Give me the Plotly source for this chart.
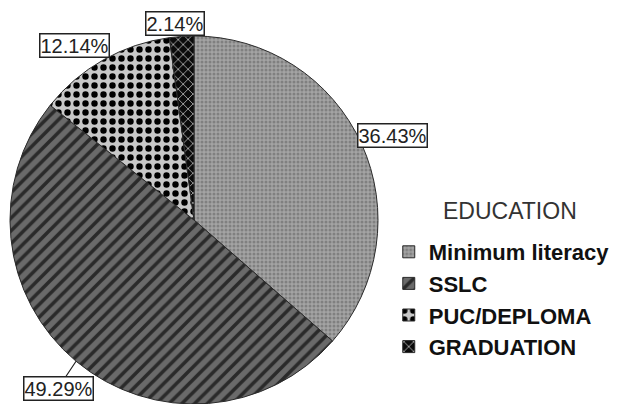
import math
import plotly.graph_objects as go

labels = ["Minimum literacy", "SSLC", "PUC/DEPLOMA", "GRADUATION"]
values = [36.43, 49.29, 12.14, 2.14]
text_labels = ["36.43%", "49.29%", "12.14%", "2.14%"]
legend_title = "EDUCATION"

W, H = 622, 404
CX, CY, R = 194, 220, 184

patterns = dict(
    shape=[".", "/", ".", "x"],
    fgcolor=["#808080", "#2a2a2a", "#000000", "#e8e8e8"],
    bgcolor=["#a4a4a4", "#6a6a6a", "#c8c8c8", "#0a0a0a"],
    size=[4, 9, 9, 7],
    solidity=[0.45, 0.4, 0.4, 0.18],
    fillmode="overlay",
    fgopacity=1,
)

fig = go.Figure(go.Pie(
    labels=labels, values=values, sort=False, direction="clockwise", rotation=0,
    textinfo="none", hoverinfo="label+percent",
    marker=dict(colors=patterns["bgcolor"], line=dict(color="#2a2a2a", width=1),
                pattern=patterns),
    domain=dict(x=[(CX - R) / W, (CX + R) / W], y=[1 - (CY + R) / H, 1 - (CY - R) / H]),
))

# label placement derived from slice mid-angles
offsets = [(0.98, -1, -10, "left"), (1.0, -18, -27, "center"), (1.0, -29, -14, "center"), (1.0, -7, -13, "center")]
total = sum(values)
cum = 0
annotations = []
for i, v in enumerate(values):
    mid = (cum + v / 2) / total * 2 * math.pi
    cum += v
    k, dx, dy, anchor = offsets[i]
    ex = CX + R * k * math.sin(mid)
    ey = CY - R * k * math.cos(mid)
    common = dict(text=text_labels[i], xref="paper", yref="paper",
                  font=dict(family="Liberation Sans, Arial", size=20, color="#222"),
                  bordercolor="#222", borderwidth=1.5, borderpad=0, bgcolor="white")
    if i == 1:
        annotations.append(dict(x=ex / W, y=1 - ey / H, showarrow=True, arrowhead=0,
                                arrowwidth=1.2, arrowcolor="#222", ax=dx, ay=-dy,
                                axref="pixel", ayref="pixel", **common))
    else:
        annotations.append(dict(x=(ex + dx) / W, y=1 - (ey + dy) / H, showarrow=False,
                                xanchor=anchor, yanchor="middle", **common))

annotations.append(dict(text=legend_title, xref="paper", yref="paper", x=510 / W, y=1 - 211 / H,
                        showarrow=False, xanchor="center", yanchor="middle",
                        font=dict(family="Liberation Sans, Arial", size=23, color="#333")))

fig.update_layout(
    width=W, height=H, margin=dict(l=0, r=0, t=0, b=0),
    paper_bgcolor="white", plot_bgcolor="white",
    annotations=annotations,
    legend=dict(x=0.625, y=1 - 231 / H, xanchor="left", yanchor="top",
                font=dict(family="Liberation Sans, Arial", size=22, color="#111", weight="bold"),
                bgcolor="rgba(0,0,0,0)", itemwidth=30),
)

fig.write_html("out.html")
